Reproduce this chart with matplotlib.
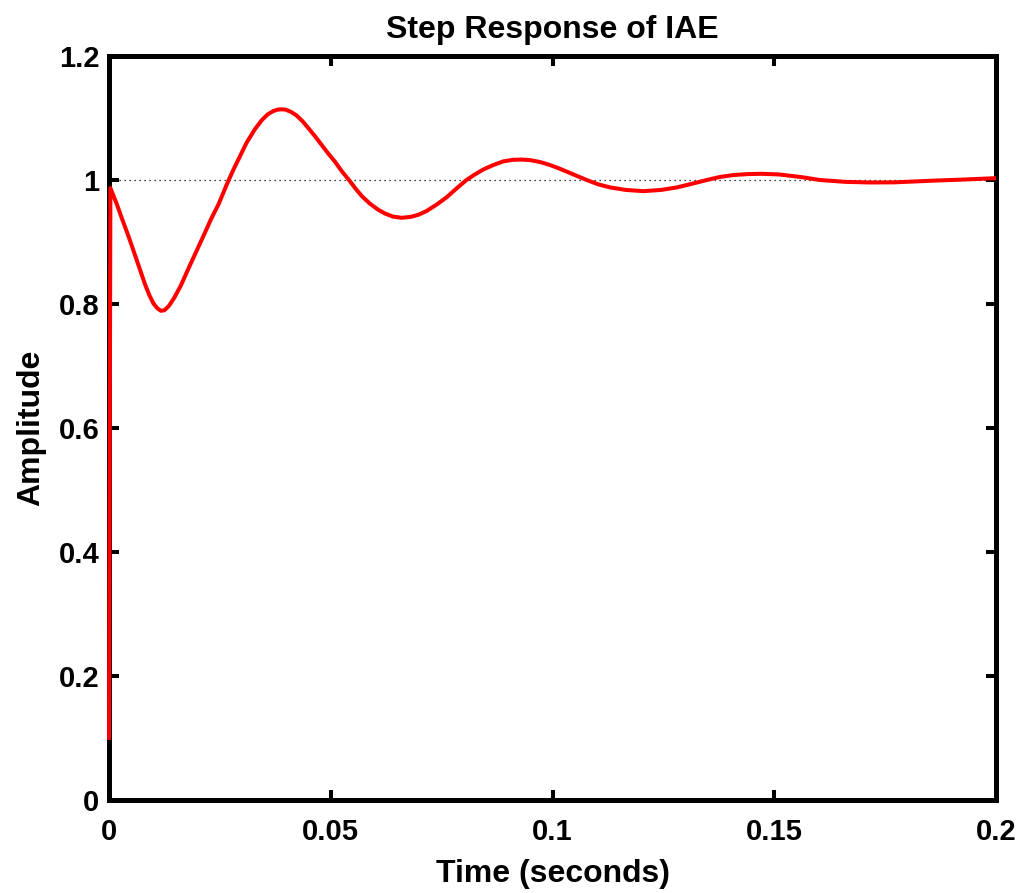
import matplotlib
matplotlib.use("Agg")
import matplotlib.pyplot as plt
from matplotlib.ticker import FixedLocator, FixedFormatter

# Step response samples: time (s) and amplitude
time_s = [0.0000, 0.0003, 0.0017, 0.0030, 0.0044, 0.0057, 0.0070, 0.0081,
          0.0091, 0.0100, 0.0109, 0.0117, 0.0125, 0.0135, 0.0147, 0.0162,
          0.0177, 0.0195, 0.0213, 0.0230, 0.0247, 0.0265, 0.0280, 0.0295,
          0.0310, 0.0329, 0.0345, 0.0358, 0.0370, 0.0380, 0.0389, 0.0398,
          0.0410, 0.0423, 0.0436, 0.0449, 0.0465, 0.0480, 0.0495, 0.0510,
          0.0525, 0.0541, 0.0556, 0.0570, 0.0588, 0.0607, 0.0622, 0.0640,
          0.0660, 0.0680, 0.0698, 0.0716, 0.0738, 0.0761, 0.0783, 0.0806,
          0.0825, 0.0844, 0.0866, 0.0889, 0.0910, 0.0930, 0.0950, 0.0972,
          0.0995, 0.1017, 0.1047, 0.1077, 0.1103, 0.1130, 0.1165, 0.1205,
          0.1245, 0.1280, 0.1315, 0.1348, 0.1378, 0.1408, 0.1440, 0.1470,
          0.1510, 0.1558, 0.1603, 0.1660, 0.1716, 0.1770, 0.1829, 0.1870,
          0.1919, 0.2000]
amplitude = [0.097, 0.987, 0.962, 0.936, 0.909, 0.882, 0.855, 0.832,
             0.814, 0.801, 0.793, 0.789, 0.790, 0.797, 0.810, 0.830,
             0.854, 0.882, 0.910, 0.937, 0.961, 0.992, 1.016, 1.038,
             1.060, 1.082, 1.097, 1.106, 1.111, 1.1135, 1.114, 1.1135,
             1.110, 1.104, 1.095, 1.084, 1.070, 1.056, 1.042, 1.029,
             1.014, 1.000, 0.986, 0.974, 0.962, 0.952, 0.946, 0.941,
             0.939, 0.9405, 0.944, 0.950, 0.960, 0.972, 0.986, 1.000,
             1.009, 1.017, 1.024, 1.030, 1.0325, 1.033, 1.032, 1.029,
             1.024, 1.018, 1.009, 1.000, 0.993, 0.988, 0.984, 0.982,
             0.984, 0.988, 0.994, 1.000, 1.005, 1.008, 1.0095, 1.010,
             1.009, 1.005, 1.000, 0.997, 0.996, 0.9962, 0.998, 0.9993,
             1.0005, 1.003]

steady_state = 1.0

x_ticks = [0, 0.05, 0.1, 0.15, 0.2]
x_tick_labels = ["0", "0.05", "0.1", "0.15", "0.2"]
y_ticks = [0, 0.2, 0.4, 0.6, 0.8, 1.0, 1.2]
y_tick_labels = ["0", "0.2", "0.4", "0.6", "0.8", "1", "1.2"]

plt.rcParams["font.family"] = ["Liberation Sans", "DejaVu Sans"]
plt.rcParams["font.weight"] = "bold"

fig = plt.figure(figsize=(10.23, 8.93), dpi=100)
ax = fig.add_axes([0.1066, 0.1041, 0.8670, 0.8332])

ax.axhline(steady_state, color="black", linestyle=(0, (1, 3)), linewidth=0.9, zorder=1)
ax.plot(time_s, amplitude, color="#ff0000", linewidth=2.9, zorder=3,
        clip_on=False, solid_capstyle="butt", solid_joinstyle="round")

ax.set_xlim(0, 0.2)
ax.set_ylim(0, 1.2)
ax.xaxis.set_major_locator(FixedLocator(x_ticks))
ax.xaxis.set_major_formatter(FixedFormatter(x_tick_labels))
ax.yaxis.set_major_locator(FixedLocator(y_ticks))
ax.yaxis.set_major_formatter(FixedFormatter(y_tick_labels))

for spine in ax.spines.values():
    spine.set_linewidth(3.6)
    spine.set_zorder(2.5)

ax.tick_params(axis="both", which="major", direction="in", length=7, width=2.9,
               top=True, right=True, labelsize=21)
ax.tick_params(axis="x", pad=13)
ax.tick_params(axis="y", pad=7)
for lbl in ax.get_xticklabels() + ax.get_yticklabels():
    lbl.set_fontweight("bold")

ax.set_title("Step Response of IAE", fontsize=23, fontweight="bold", pad=13)
ax.set_xlabel("Time (seconds)", fontsize=23, fontweight="bold", labelpad=9)
ax.set_ylabel("Amplitude", fontsize=23, fontweight="bold", labelpad=9)

fig.savefig("out.png", dpi=100, facecolor="white")
